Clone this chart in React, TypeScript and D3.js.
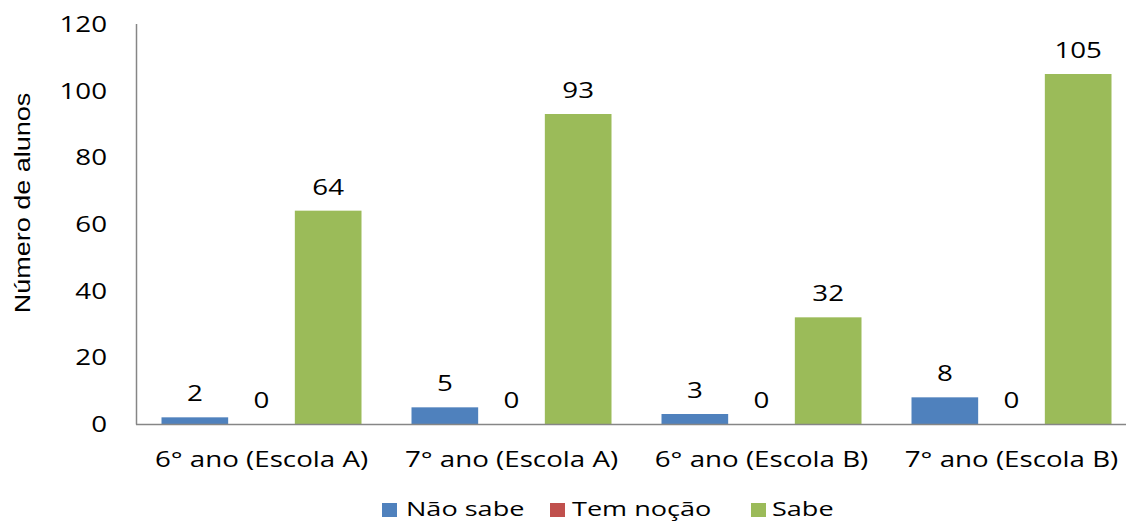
import React from "react";
import * as d3 from "d3";

const categories = ["6° ano (Escola A)", "7° ano (Escola A)", "6° ano (Escola B)", "7° ano (Escola B)"];
const seriesNames = ["Não sabe", "Tem noção", "Sabe"];
const naoSabe = [2, 5, 3, 8];
const temNocao = [0, 0, 0, 0];
const sabe = [64, 93, 32, 105];
const yTicks = [0, 20, 40, 60, 80, 100, 120];
const colors = ["#4F81BD", "#C0504D", "#9BBB59"];

const W = 1126;
const H = 521;
const FONT = "'Open Sans', sans-serif";
const SX = 1.26;

function T(props: {
  x: number;
  y: number;
  anchor?: "start" | "middle" | "end";
  size: number;
  children: React.ReactNode;
  family?: string;
  sx?: number;
}) {
  return (
    <text
      transform={`translate(${props.x},${props.y}) scale(${props.sx ?? SX},1)`}
      textAnchor={props.anchor ?? "start"}
      fontFamily={props.family ?? FONT}
      fontSize={props.size}
      fill="#000"
    >
      {props.children}
    </text>
  );
}

export default function App() {
  const series = [naoSabe, temNocao, sabe];
  const x0 = d3.scaleBand<string>().domain(categories).range([136.5, 1136.5]).padding(0);
  const inner = x0.bandwidth();
  const x1 = d3
    .scaleBand<string>()
    .domain(seriesNames)
    .range([inner * 0.1, inner * 0.9])
    .padding(0);
  const y = d3.scaleLinear().domain([0, 120]).range([424, 24]);

  const legendItems = [
    { name: seriesNames[0], sx: 382, tx: 406 },
    { name: seriesNames[1], sx: 550, tx: 572 },
    { name: seriesNames[2], sx: 751, tx: 772 },
  ];

  return (
    <svg width={W} height={H} style={{ position: "absolute", left: 0, top: 0, background: "#fff" }}>
      <rect x={0} y={0} width={W} height={H} fill="#fff" />
      {/* y axis title */}
      <text
        transform={`translate(30,${203}) rotate(-90) scale(1.2,1)`}
        textAnchor="middle"
        fontFamily="'Liberation Sans', Arial, sans-serif"
        fontSize={22.5}
        fill="#000"
      >
        Número de alunos
      </text>
      {/* y tick labels */}
      {yTicks.map((t) => (
        <T key={t} x={107} y={y(t) + 8} anchor="end" size={22}>
          {t}
        </T>
      ))}
      {/* bars */}
      {categories.map((c, ci) => (
        <g key={c} transform={`translate(${x0(c)},0)`}>
          {series.map((s, si) => {
            const v = s[ci];
            const bx = x1(seriesNames[si])!;
            return (
              <g key={si}>
                {v > 0 && (
                  <rect x={bx} y={y(v)} width={x1.bandwidth()} height={y(0) - y(v)} fill={colors[si]} />
                )}
                <T x={bx + x1.bandwidth() / 2} y={y(v) - 16} anchor="middle" size={22}>
                  {v}
                </T>
              </g>
            );
          })}
          <T x={inner / 2} y={467} anchor="middle" size={22}>
            {c}
          </T>
        </g>
      ))}
      {/* axes */}
      <line x1={136.5} x2={136.5} y1={24} y2={424.5} stroke="#868686" strokeWidth={1.5} />
      <line x1={136} x2={1136.5} y1={424.5} y2={424.5} stroke="#868686" strokeWidth={1.5} />
      {/* legend */}
      {legendItems.map((it, i) => (
        <g key={it.name}>
          <rect x={it.sx} y={503} width={15} height={14} fill={colors[i]} />
          <T x={it.tx} y={516} size={20.5} sx={1.32}>
            {it.name}
          </T>
        </g>
      ))}
    </svg>
  );
}
